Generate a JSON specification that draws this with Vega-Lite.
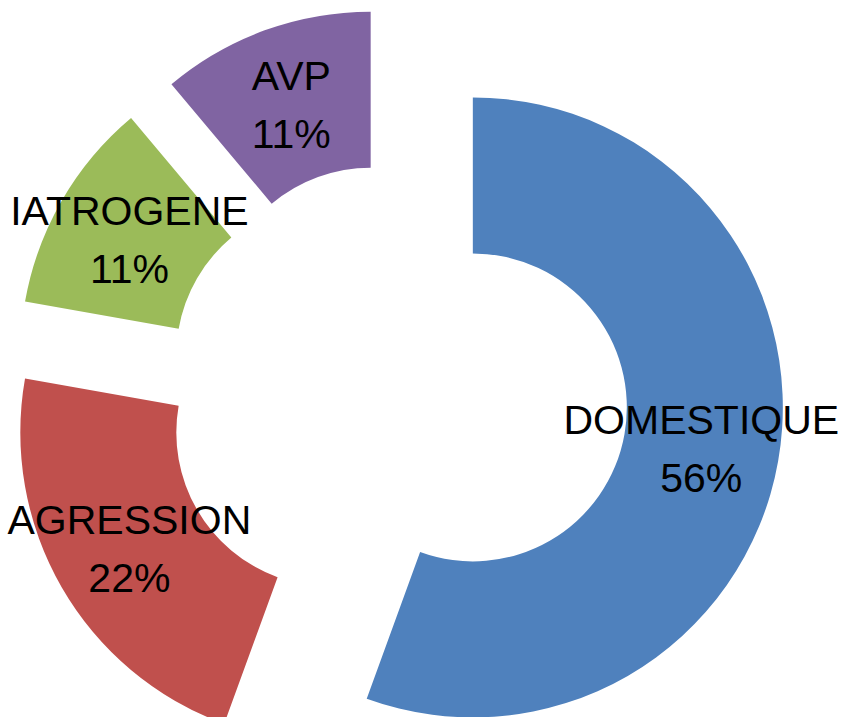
{
  "$schema": "https://vega.github.io/schema/vega-lite/v6.json",
  "width": 842,
  "height": 717,
  "autosize": {"type": "fit", "contains": "padding"},
  "padding": {"left": 0, "right": 26, "top": 47, "bottom": 0},
  "background": "white",
  "view": {"stroke": null},
  "data": {
    "values": [
      {"cause": "DOMESTIQUE", "part": 0.5556, "rang": 1},
      {"cause": "AGRESSION", "part": 0.2222, "rang": 2},
      {"cause": "IATROGENE", "part": 0.1111, "rang": 3},
      {"cause": "AVP", "part": 0.1111, "rang": 4}
    ]
  },
  "encoding": {
    "theta": {"field": "part", "type": "quantitative", "stack": true, "scale": {"domain": [0, 1]}},
    "order": {"field": "rang", "type": "quantitative"},
    "color": {
      "field": "cause",
      "type": "nominal",
      "scale": {
        "domain": ["DOMESTIQUE", "AGRESSION", "IATROGENE", "AVP"],
        "range": ["#4F81BD", "#C0504D", "#9BBB59", "#8064A2"]
      },
      "legend": null
    }
  },
  "layer": [
    {
      "mark": {
        "type": "arc",
        "innerRadius": 154,
        "outerRadius": 310,
        "xOffset": {"expr": "77*sin(PI*(datum.part_start+datum.part_end))"},
        "yOffset": {"expr": "-77*cos(PI*(datum.part_start+datum.part_end))"}
      }
    },
    {
      "mark": {
        "type": "text",
        "radius": 232,
        "font": "Liberation Sans",
        "fontSize": 41,
        "baseline": "alphabetic",
        "align": "center",
        "dy": -14,
        "xOffset": {"expr": "77*sin(PI*(datum.part_start+datum.part_end))"},
        "yOffset": {"expr": "-77*cos(PI*(datum.part_start+datum.part_end))"}
      },
      "encoding": {
        "text": {"field": "cause", "type": "nominal"},
        "color": {"value": "black"}
      }
    },
    {
      "mark": {
        "type": "text",
        "radius": 232,
        "font": "Liberation Sans",
        "fontSize": 41,
        "baseline": "alphabetic",
        "align": "center",
        "dy": 44,
        "xOffset": {"expr": "77*sin(PI*(datum.part_start+datum.part_end))"},
        "yOffset": {"expr": "-77*cos(PI*(datum.part_start+datum.part_end))"}
      },
      "encoding": {
        "text": {"field": "part", "type": "quantitative", "format": ".0%"},
        "color": {"value": "black"}
      }
    }
  ]
}
